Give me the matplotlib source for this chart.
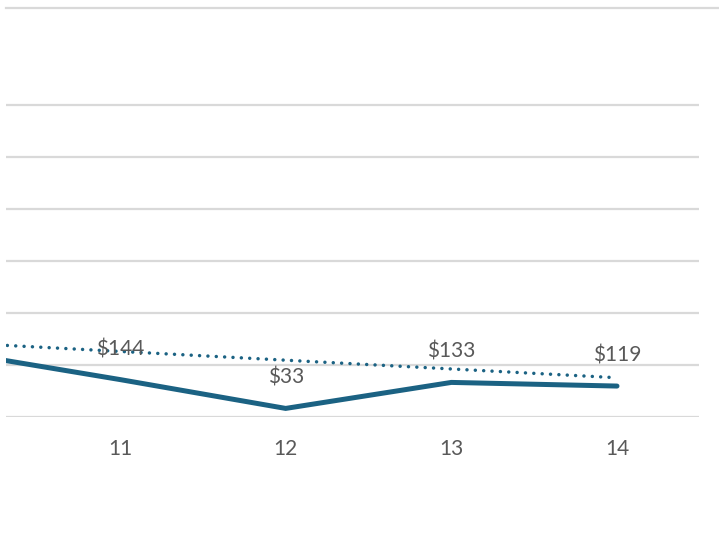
import matplotlib.pyplot as plt
from matplotlib.lines import Line2D

# categories and values (10 is only partly visible at the left)
days = [10, 11, 12, 13, 14]
amounts = [250, 144, 33, 133, 119]
labels = ["", "$144", "$33", "$133", "$119"]

# linear trend line end points
trend_days = [10, 14]
trend_amounts = [286, 151]

tick_days = [11, 12, 13, 14]
grid_values = [0, 200, 400, 600, 800, 1000, 1200]

line_color = "#1B6283"
text_color = "#595959"
grid_color = "#D9D9D9"

plt.rcParams['font.family'] = ['Lato', 'DejaVu Sans']

fig = plt.figure(figsize=(7.19, 5.34), dpi=100)
W, H = 719, 534
ax = fig.add_axes([6 / W, (H - 417) / H, (699 - 6) / W, (417 - 8) / H])

ax.plot(days, amounts, color=line_color, linewidth=3.6,
        solid_capstyle="round", solid_joinstyle="miter", zorder=3)
ax.plot(trend_days, trend_amounts, color=line_color, linewidth=2.5,
        linestyle=(0, (0.01, 2.4)), dash_capstyle="round", zorder=2)

for d, v, lab in zip(days, amounts, labels):
    if lab:
        ax.annotate(lab, (d, v), xytext=(0, 22), textcoords="offset points",
                    ha="center", va="center", fontsize=15, color=text_color)

ax.set_xlim(10.312, 14.495)
ax.set_ylim(0, 1573)
ax.set_xticks(tick_days)
ax.set_xticklabels([str(d) for d in tick_days])
ax.set_yticks(grid_values)
ax.set_yticklabels([])
ax.tick_params(axis="both", length=0)
ax.tick_params(axis="x", pad=16, labelsize=15, labelcolor=text_color)
ax.grid(axis="y", color=grid_color, linewidth=1.6)
ax.set_axisbelow(True)
for s in ax.spines.values():
    s.set_visible(False)

# top border line running across the figure
fig.add_artist(Line2D([6 / W, 1.0], [(H - 8) / H, (H - 8) / H],
                      color=grid_color, linewidth=1.6))

fig.savefig("out.png", dpi=100)
